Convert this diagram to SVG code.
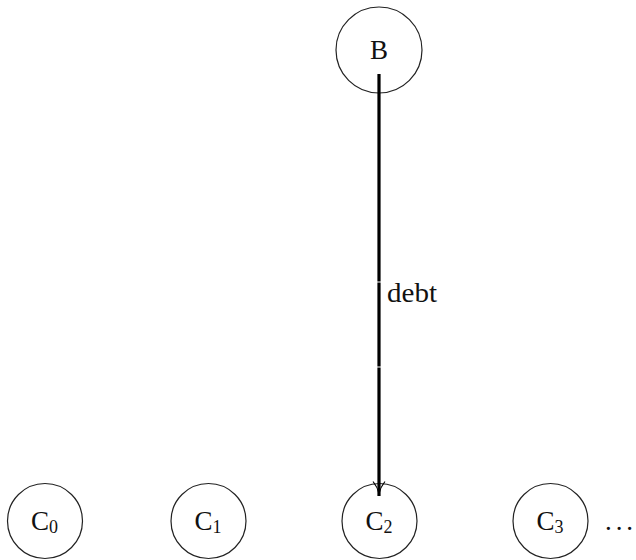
<svg xmlns="http://www.w3.org/2000/svg" width="636" height="560" viewBox="0 0 636 560">
<style>
.node{fill:#fff;stroke:#222;stroke-width:1.2}
.lbl{font-family:"Liberation Serif","DejaVu Serif",serif;font-size:27px;fill:#111}
.sub{font-size:18px}
.edge{stroke:#000;stroke-width:3.2;fill:none}
.head{stroke:#000;stroke-width:1.1;fill:none}
</style>
<rect width="636" height="560" fill="#fff"/>
<g id="B"><circle class="node" cx="379" cy="50" r="43"/><text class="lbl" x="379" y="59" text-anchor="middle">B</text></g>
<g id="C0"><circle class="node" cx="45" cy="521" r="37.5"/><text class="lbl" x="31" y="530">C<tspan class="sub" dy="3">0</tspan></text></g>
<g id="C1"><circle class="node" cx="208.5" cy="521" r="37.5"/><text class="lbl" x="194.5" y="530">C<tspan class="sub" dy="3">1</tspan></text></g>
<g id="C2"><circle class="node" cx="379.5" cy="521" r="37.5"/><text class="lbl" x="365.5" y="530">C<tspan class="sub" dy="3">2</tspan></text></g>
<g id="C3"><circle class="node" cx="550.5" cy="521" r="37.5"/><text class="lbl" x="536.5" y="530">C<tspan class="sub" dy="3">3</tspan></text></g>
<g id="dots"><text class="lbl" x="605" y="530" textLength="28" lengthAdjust="spacing">. . .</text></g>
<g id="connectors">
<path class="edge" d="M379,74 V281.5 M379,282.5 V366.5 M379,367.5 V496"/>
<path class="head" d="M373,481.5 Q377.5,487 379,494 Q380.5,487 385,481.5"/>
<text class="lbl" x="387" y="302" textLength="50" lengthAdjust="spacingAndGlyphs">debt</text>
</g>
</svg>
